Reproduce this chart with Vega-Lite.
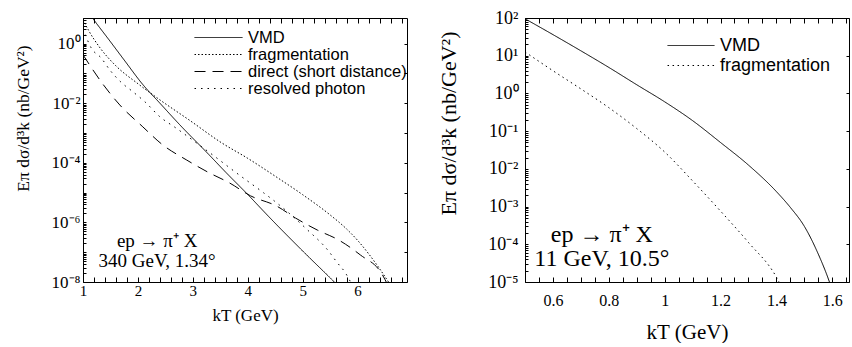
{
  "$schema": "https://vega.github.io/schema/vega-lite/v6.json",
  "background": "white",
  "padding": {"left": 13, "top": 1, "right": 0, "bottom": 0},
  "bounds": "flush",
  "spacing": 118,
  "config": {
    "view": {"stroke": "black", "strokeWidth": 1},
    "axis": {"grid": false, "domain": false, "tickColor": "black", "labelColor": "black", "titleColor": "black", "labelFont": "Liberation Serif", "titleFont": "Liberation Serif", "titleFontWeight": "normal", "labelOverlap": false, "labelFlush": false, "labelBound": false, "tickSize": -5}
  },
  "datasets": {
    "left": [
      {"series": "VMD", "k": 1.0, "v": 20},
      {"series": "VMD", "k": 1.18, "v": 6.9},
      {"series": "VMD", "k": 1.5, "v": 1.15},
      {"series": "VMD", "k": 1.75, "v": 0.28},
      {"series": "VMD", "k": 2.09, "v": 0.042},
      {"series": "VMD", "k": 2.4, "v": 0.01},
      {"series": "VMD", "k": 2.76, "v": 0.0019},
      {"series": "VMD", "k": 3.29, "v": 0.00019},
      {"series": "VMD", "k": 3.6, "v": 4.8e-5},
      {"series": "VMD", "k": 4.02, "v": 7.9e-6},
      {"series": "VMD", "k": 4.38, "v": 1.58e-6},
      {"series": "VMD", "k": 5.0, "v": 1.1e-7},
      {"series": "VMD", "k": 5.56, "v": 1.07e-8},
      {"series": "VMD", "k": 6.0, "v": 1.6e-9},
      {"series": "fragmentation", "k": 1.0, "v": 6.3},
      {"series": "fragmentation", "k": 1.1, "v": 2.8},
      {"series": "fragmentation", "k": 1.3, "v": 0.76},
      {"series": "fragmentation", "k": 1.6, "v": 0.178},
      {"series": "fragmentation", "k": 2.0, "v": 0.045},
      {"series": "fragmentation", "k": 2.4, "v": 0.0129},
      {"series": "fragmentation", "k": 2.93, "v": 0.00275},
      {"series": "fragmentation", "k": 3.53, "v": 0.00046},
      {"series": "fragmentation", "k": 4.0, "v": 0.000141},
      {"series": "fragmentation", "k": 4.5, "v": 3.55e-5},
      {"series": "fragmentation", "k": 5.0, "v": 8.5e-6},
      {"series": "fragmentation", "k": 5.5, "v": 1.78e-6},
      {"series": "fragmentation", "k": 5.8, "v": 6e-7},
      {"series": "fragmentation", "k": 6.0, "v": 2.5e-7},
      {"series": "fragmentation", "k": 6.2, "v": 8.9e-8},
      {"series": "fragmentation", "k": 6.4, "v": 2.8e-8},
      {"series": "fragmentation", "k": 6.6, "v": 7.9e-9},
      {"series": "direct (short distance)", "k": 1.0, "v": 0.42},
      {"series": "direct (short distance)", "k": 1.36, "v": 0.044},
      {"series": "direct (short distance)", "k": 1.67, "v": 0.0087},
      {"series": "direct (short distance)", "k": 2.09, "v": 0.0016},
      {"series": "direct (short distance)", "k": 2.45, "v": 0.0004},
      {"series": "direct (short distance)", "k": 2.89, "v": 0.000123},
      {"series": "direct (short distance)", "k": 3.27, "v": 4.9e-5},
      {"series": "direct (short distance)", "k": 3.67, "v": 2.1e-5},
      {"series": "direct (short distance)", "k": 4.05, "v": 7.8e-6},
      {"series": "direct (short distance)", "k": 4.53, "v": 3.5e-6},
      {"series": "direct (short distance)", "k": 4.87, "v": 1.4e-6},
      {"series": "direct (short distance)", "k": 5.27, "v": 5.5e-7},
      {"series": "direct (short distance)", "k": 5.65, "v": 2.6e-7},
      {"series": "direct (short distance)", "k": 6.05, "v": 8.1e-8},
      {"series": "direct (short distance)", "k": 6.44, "v": 1.9e-8},
      {"series": "direct (short distance)", "k": 6.6, "v": 5e-9},
      {"series": "resolved photon", "k": 1.0, "v": 3.2},
      {"series": "resolved photon", "k": 1.15, "v": 0.71},
      {"series": "resolved photon", "k": 1.33, "v": 0.33},
      {"series": "resolved photon", "k": 1.49, "v": 0.129},
      {"series": "resolved photon", "k": 1.69, "v": 0.051},
      {"series": "resolved photon", "k": 1.91, "v": 0.024},
      {"series": "resolved photon", "k": 2.13, "v": 0.011},
      {"series": "resolved photon", "k": 2.4, "v": 0.0035},
      {"series": "resolved photon", "k": 2.69, "v": 0.00148},
      {"series": "resolved photon", "k": 3.29, "v": 0.00023},
      {"series": "resolved photon", "k": 3.87, "v": 3.6e-5},
      {"series": "resolved photon", "k": 4.29, "v": 9.8e-6},
      {"series": "resolved photon", "k": 4.51, "v": 4.8e-6},
      {"series": "resolved photon", "k": 5.07, "v": 6e-7},
      {"series": "resolved photon", "k": 5.47, "v": 1.1e-7},
      {"series": "resolved photon", "k": 5.62, "v": 4.7e-8},
      {"series": "resolved photon", "k": 5.78, "v": 2e-8},
      {"series": "resolved photon", "k": 5.9, "v": 8e-9}
    ],
    "leftText": [
      {"label": "ep → π⁺ X", "k": 2.35, "v": 2.4e-7},
      {"label": "340 GeV, 1.34°", "k": 2.35, "v": 5.1e-8}
    ],
    "right": [
      {"series": "VMD", "k": 0.5, "v": 95.5},
      {"series": "VMD", "k": 0.6, "v": 36.3},
      {"series": "VMD", "k": 0.7, "v": 13.5},
      {"series": "VMD", "k": 0.8, "v": 4.9},
      {"series": "VMD", "k": 0.9, "v": 1.7},
      {"series": "VMD", "k": 1.0, "v": 0.6},
      {"series": "VMD", "k": 1.1, "v": 0.19},
      {"series": "VMD", "k": 1.2, "v": 0.05},
      {"series": "VMD", "k": 1.3, "v": 0.0126},
      {"series": "VMD", "k": 1.4, "v": 0.0025},
      {"series": "VMD", "k": 1.45, "v": 0.00095},
      {"series": "VMD", "k": 1.5, "v": 0.0003},
      {"series": "VMD", "k": 1.55, "v": 5.5e-5},
      {"series": "VMD", "k": 1.59, "v": 1e-5},
      {"series": "VMD", "k": 1.62, "v": 2e-6},
      {"series": "fragmentation", "k": 0.5, "v": 12.6},
      {"series": "fragmentation", "k": 0.6, "v": 4.0},
      {"series": "fragmentation", "k": 0.7, "v": 1.32},
      {"series": "fragmentation", "k": 0.8, "v": 0.42},
      {"series": "fragmentation", "k": 0.9, "v": 0.117},
      {"series": "fragmentation", "k": 1.0, "v": 0.028},
      {"series": "fragmentation", "k": 1.1, "v": 0.0048},
      {"series": "fragmentation", "k": 1.2, "v": 0.00076},
      {"series": "fragmentation", "k": 1.3, "v": 0.000112},
      {"series": "fragmentation", "k": 1.4, "v": 1.35e-5},
      {"series": "fragmentation", "k": 1.43, "v": 5e-6}
    ],
    "rightText": [
      {"label": "ep → π⁺ X", "k": 0.775, "v": 0.000178},
      {"label": "11 GeV, 10.5°", "k": 0.775, "v": 4.07e-5}
    ]
  },
  "resolve": {"scale": {"strokeDash": "independent"}, "legend": {"strokeDash": "independent"}},
  "hconcat": [
    {
      "width": 324,
      "height": 264,
      "resolve": {"axis": {"x": "independent", "y": "independent"}},
      "layer": [
        {
          "data": {"name": "left"},
          "mark": {"type": "line", "clip": true, "color": "black", "strokeWidth": 1, "interpolate": "monotone"},
          "encoding": {
            "x": {"field": "k", "type": "quantitative", "scale": {"domain": [1, 6.9], "nice": false, "zero": false},
              "axis": {"orient": "bottom", "values": [1,1.2,1.4,1.6,1.8,2,2.2,2.4,2.6,2.8,3,3.2,3.4,3.6,3.8,4,4.2,4.4,4.6,4.8,5,5.2,5.4,5.6,5.8,6,6.2,6.4,6.6,6.8],
                "labelExpr": "abs(datum.value - round(datum.value)) < 0.01 ? format(datum.value, 'd') : ''",
                "labelFontSize": 15, "labelPadding": 6, "title": "kT (GeV)", "titleFontSize": 17, "titlePadding": 9}},
            "y": {"field": "v", "type": "quantitative", "scale": {"type": "log", "domain": [1e-8, 7.2], "nice": false},
              "axis": {"orient": "left", "values": [1e-8,2e-8,3e-8,4e-8,5e-8,6e-8,7e-8,8e-8,9e-8,1e-7,2e-7,3e-7,4e-7,5e-7,6e-7,7e-7,8e-7,9e-7,1e-6,2e-6,3e-6,4e-6,5e-6,6e-6,7e-6,8e-6,9e-6,1e-5,2e-5,3e-5,4e-5,5e-5,6e-5,7e-5,8e-5,9e-5,1e-4,2e-4,3e-4,4e-4,5e-4,6e-4,7e-4,8e-4,9e-4,1e-3,2e-3,3e-3,4e-3,5e-3,6e-3,7e-3,8e-3,9e-3,1e-2,2e-2,3e-2,4e-2,5e-2,6e-2,7e-2,8e-2,9e-2,0.1,0.2,0.3,0.4,0.5,0.6,0.7,0.8,0.9,1,2,3,4,5,6,7],
                "labelExpr": "abs(log(datum.value)/LN10 - round(log(datum.value)/LN10)) < 0.01 && round(log(datum.value)/LN10) % 2 == 0 ? ['10⁻⁸','10⁻⁷','10⁻⁶','10⁻⁵','10⁻⁴','10⁻³','10⁻²','10⁻¹','10⁰','10¹','10²'][round(log(datum.value)/LN10)+8] : ''",
                "labelFontSize": 17, "labelPadding": 6, "tickSize": -3,
                "title": "Eπ   dσ/d³k     (nb/GeV²)", "titleFontSize": 17.5, "titleX": -51, "titleY": 100}},
            "strokeDash": {"field": "series", "type": "nominal",
              "scale": {"domain": ["VMD", "fragmentation", "direct (short distance)", "resolved photon"], "range": [[1, 0], [1.5, 2], [11, 7], [1.5, 5]]},
              "legend": {"orient": "none", "legendX": 111, "legendY": 11, "title": null, "padding": 0, "clipHeight": 17, "symbolType": "stroke", "symbolSize": 2300, "symbolStrokeColor": "black", "symbolStrokeWidth": 1, "labelFont": "Liberation Sans", "labelFontSize": 16.5, "labelColor": "black", "rowPadding": 0, "labelOffset": 5}}
          }
        },
        {
          "data": {"name": "leftText"},
          "mark": {"type": "text", "font": "Liberation Serif", "fontSize": 19, "color": "black", "align": "center", "baseline": "middle"},
          "encoding": {
            "x": {"field": "k", "type": "quantitative", "axis": null},
            "y": {"field": "v", "type": "quantitative", "axis": null},
            "text": {"field": "label"}
          }
        },
        {
          "data": {"name": "left"},
          "mark": {"type": "point", "opacity": 0},
          "encoding": {
            "x": {"field": "k", "type": "quantitative", "axis": {"orient": "top", "labels": false, "title": null, "values": [1,1.2,1.4,1.6,1.8,2,2.2,2.4,2.6,2.8,3,3.2,3.4,3.6,3.8,4,4.2,4.4,4.6,4.8,5,5.2,5.4,5.6,5.8,6,6.2,6.4,6.6,6.8]}},
            "y": {"field": "v", "type": "quantitative", "axis": {"orient": "right", "labels": false, "title": null, "tickSize": -3, "values": [1e-8,1e-7,1e-6,1e-5,1e-4,1e-3,1e-2,0.1,1]}}
          }
        }
      ]
    },
    {
      "width": 324,
      "height": 264,
      "resolve": {"axis": {"x": "independent", "y": "independent"}},
      "layer": [
        {
          "data": {"name": "right"},
          "mark": {"type": "line", "clip": true, "color": "black", "strokeWidth": 1, "interpolate": "monotone"},
          "encoding": {
            "x": {"field": "k", "type": "quantitative", "scale": {"domain": [0.5, 1.66], "nice": false, "zero": false},
              "axis": {"orient": "bottom", "values": [0.5,0.55,0.6,0.65,0.7,0.75,0.8,0.85,0.9,0.95,1,1.05,1.1,1.15,1.2,1.25,1.3,1.35,1.4,1.45,1.5,1.55,1.6,1.65],
                "labelExpr": "abs(datum.value*5 - round(datum.value*5)) < 0.01 ? format(datum.value, '.1~f') : ''",
                "labelFontSize": 16, "labelPadding": 15, "title": "kT (GeV)", "titleFontSize": 21, "titlePadding": 13}},
            "y": {"field": "v", "type": "quantitative", "scale": {"type": "log", "domain": [1e-5, 100], "nice": false},
              "axis": {"orient": "left", "values": [1e-5,2e-5,3e-5,4e-5,5e-5,6e-5,7e-5,8e-5,9e-5,1e-4,2e-4,3e-4,4e-4,5e-4,6e-4,7e-4,8e-4,9e-4,1e-3,2e-3,3e-3,4e-3,5e-3,6e-3,7e-3,8e-3,9e-3,1e-2,2e-2,3e-2,4e-2,5e-2,6e-2,7e-2,8e-2,9e-2,0.1,0.2,0.3,0.4,0.5,0.6,0.7,0.8,0.9,1,2,3,4,5,6,7,8,9,10,20,30,40,50,60,70,80,90,100],
                "labelExpr": "abs(log(datum.value)/LN10 - round(log(datum.value)/LN10)) < 0.01 ? ['10⁻⁸','10⁻⁷','10⁻⁶','10⁻⁵','10⁻⁴','10⁻³','10⁻²','10⁻¹','10⁰','10¹','10²'][round(log(datum.value)/LN10)+8] : ''",
                "labelFontSize": 18, "labelPadding": 10, "tickSize": -3,
                "title": "Eπ   dσ/d³k     (nb/GeV²)", "titleFontSize": 22, "titleX": -65, "titleY": 105}},
            "strokeDash": {"field": "series", "type": "nominal",
              "scale": {"domain": ["VMD", "fragmentation"], "range": [[1, 0], [1.5, 3.5]]},
              "legend": {"orient": "none", "legendX": 142, "legendY": 18, "title": null, "padding": 0, "clipHeight": 19, "symbolType": "stroke", "symbolSize": 2200, "symbolStrokeColor": "black", "symbolStrokeWidth": 1, "labelFont": "Liberation Sans", "labelFontSize": 18, "labelColor": "black", "rowPadding": 1, "labelOffset": 5}}
          }
        },
        {
          "data": {"name": "rightText"},
          "mark": {"type": "text", "font": "Liberation Serif", "fontSize": 24, "color": "black", "align": "center", "baseline": "middle"},
          "encoding": {
            "x": {"field": "k", "type": "quantitative", "axis": null},
            "y": {"field": "v", "type": "quantitative", "axis": null},
            "text": {"field": "label"}
          }
        },
        {
          "data": {"name": "right"},
          "mark": {"type": "point", "opacity": 0},
          "encoding": {
            "x": {"field": "k", "type": "quantitative", "axis": {"orient": "top", "labels": false, "title": null, "values": [0.5,0.55,0.6,0.65,0.7,0.75,0.8,0.85,0.9,0.95,1,1.05,1.1,1.15,1.2,1.25,1.3,1.35,1.4,1.45,1.5,1.55,1.6,1.65]}},
            "y": {"field": "v", "type": "quantitative", "axis": {"orient": "right", "labels": false, "title": null, "tickSize": -3, "values": [1e-5,1e-4,1e-3,1e-2,0.1,1,10,100]}}
          }
        }
      ]
    }
  ]
}
